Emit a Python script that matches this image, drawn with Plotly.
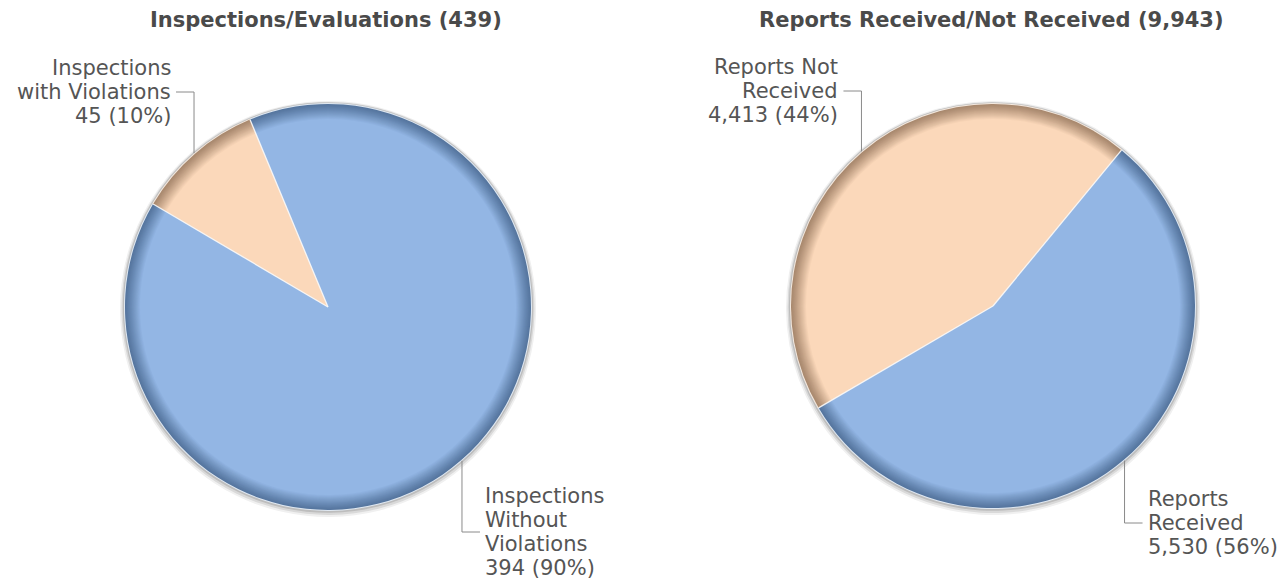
import math
import plotly.graph_objects as go

# ---------------- data ----------------
pie1_title = "Inspections/Evaluations (439)"
pie1_names = [["Inspections", "Without", "Violations"], ["Inspections", "with Violations"]]
pie1_values = [394, 45]

pie2_title = "Reports Received/Not Received (9,943)"
pie2_names = [["Reports", "Received"], ["Reports Not", "Received"]]
pie2_values = [5530, 4413]

# ---------------- styling / layout ----------------
W, H = 1287, 582
OFF = 8  # page body margin in the browser
BASE = ["#93B6E4", "#FBD8BA"]
DARK = ["#56769F", "#A9896F"]
HILITE = ["#dfe8f2", "#f4e9df"]
TEXT_COLOR = "#555555"
TITLE_COLOR = "#4a4a4a"
FONT = "DejaVu Sans"
LINE_H = 24
RIM = 16

pies = [
    dict(title=pie1_title, names=pie1_names, values=pie1_values,
         cx=328, cy=307, R=204, rotation=-22.6, label_y=[532, 92]),
    dict(title=pie2_title, names=pie2_names, values=pie2_values,
         cx=993, cy=306, R=203, rotation=39.5, label_y=[523, 91]),
]


def mix(c1, c2, f):
    a = [int(c1[i:i + 2], 16) for i in (1, 3, 5)]
    b = [int(c2[i:i + 2], 16) for i in (1, 3, 5)]
    return "#%02x%02x%02x" % tuple(round(a[k] * (1 - f) + b[k] * f) for k in range(3))


def domain(cx, cy, r, dy=0.0):
    cx, cy = cx - OFF, cy - OFF + dy
    return dict(x=[(cx - r) / W, (cx + r) / W],
                y=[(H - cy - r) / H, (H - cy + r) / H])


def px(x, y):
    return (x - OFF) / W, 1 - (y - OFF) / H


fig = go.Figure()
shapes = []
annotations = []

for p in pies:
    vals = p["values"]
    total = sum(vals)
    cx, cy, R, rot = p["cx"], p["cy"], p["R"], p["rotation"]
    common = dict(values=vals, labels=[" ".join(n) for n in p["names"]], sort=False,
                  direction="clockwise", rotation=rot, textinfo="none",
                  hoverinfo="skip", showlegend=False)
    # soft shadow
    for dr, dy, col in [(4, 2, "#f0f0f0"), (2.5, 1.5, "#d9d9d9"), (1.2, 0.6, "#bdbdbd")]:
        fig.add_trace(go.Pie(domain=domain(cx, cy, R + dr, dy),
                             marker=dict(colors=[col] * len(vals), line=dict(width=0)), **common))
    # highlight edge
    fig.add_trace(go.Pie(domain=domain(cx, cy, R),
                         marker=dict(colors=HILITE[:len(vals)], line=dict(width=0)), **common))
    # gradient rim
    for d in range(1, RIM + 1):
        f = min(1.0, max(0.0, (d - 1) / (RIM - 1))) ** 1.15
        cols = [mix(DARK[i], BASE[i], f) for i in range(len(vals))]
        fig.add_trace(go.Pie(domain=domain(cx, cy, R - d),
                             marker=dict(colors=cols, line=dict(width=0)), **common))

    # slice boundary lines and labels
    cum = 0
    for i, v in enumerate(vals):
        a0 = math.radians(rot + cum / total * 360)
        x0, y0 = px(cx, cy)
        x1, y1 = px(cx + (R - 1) * math.sin(a0), cy - (R - 1) * math.cos(a0))
        shapes.append(dict(type="line", xref="paper", yref="paper", x0=x0, y0=y0, x1=x1, y1=y1,
                           line=dict(color="rgba(250,250,250,0.9)", width=1.3), layer="above"))
        am = math.radians(rot + (cum + v / 2) / total * 360)
        ex, ey = cx + R * math.sin(am), cy - R * math.cos(am)
        ly = p["label_y"][i]
        side = 1 if math.sin(am) > 0 else -1
        hx = ex + side * 18
        path = "M %f %f L %f %f L %f %f" % (
            *px(ex, ey), *px(ex, ly), *px(hx, ly))
        shapes.append(dict(type="path", xref="paper", yref="paper", path=path,
                           line=dict(color="#8a8a8a", width=1), layer="above"))
        lines = p["names"][i] + ["%s (%d%%)" % (f"{v:,}", round(100 * v / total))]
        n = len(lines)
        for k, t in enumerate(lines):
            yy = ly + (k - (n - 1) / 2) * LINE_H
            ax, ay = px(hx + side * 3, yy)
            annotations.append(dict(x=ax, y=ay, xref="paper", yref="paper", text=t,
                                    showarrow=False, xanchor="left" if side > 0 else "right",
                                    yanchor="middle", align="left" if side > 0 else "right",
                                    font=dict(family=FONT, size=21, color=TEXT_COLOR)))
        cum += v

    tx, ty = px(cx - 2, 20)
    annotations.append(dict(x=tx, y=ty, xref="paper", yref="paper", text="<b>%s</b>" % p["title"],
                            showarrow=False, xanchor="center", yanchor="middle",
                            font=dict(family=FONT, size=21, color=TITLE_COLOR)))

fig.update_layout(width=W, height=H, margin=dict(l=0, r=0, t=0, b=0),
                  paper_bgcolor="white", plot_bgcolor="white", showlegend=False,
                  shapes=shapes, annotations=annotations)

fig.write_html("out.html")
